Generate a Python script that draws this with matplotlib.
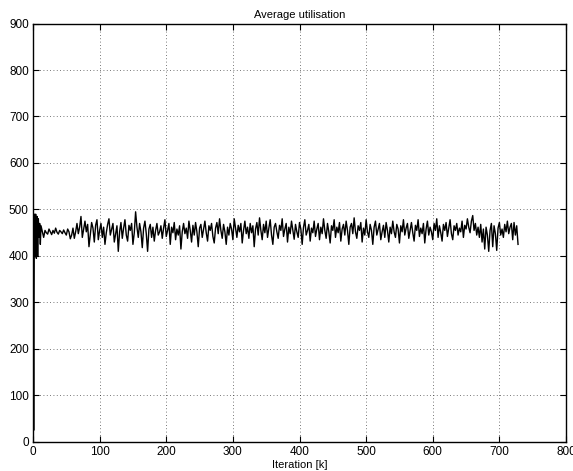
import numpy as np
import matplotlib
matplotlib.use('Agg')
import matplotlib.pyplot as plt

plt.rcParams['font.family'] = ['Liberation Sans', 'DejaVu Sans']

# start-up transient, one sample per iteration (k)
start_iter = [0, 1, 2, 3, 4, 5, 6, 7, 8, 9, 10, 11, 12]
start_util = [470, 25, 490, 400, 490, 395, 485, 400, 480, 440, 470, 425, 465]

# steady state, read every 2 k from 14 k on
steady_iter = np.arange(14, 729, 2)
steady_util = [
    452, 440, 455, 450, 447, 458, 452, 446, 455, 449, 460, 451, 447, 455,
    452, 448, 456, 450, 445, 458, 452, 437,
    445, 460, 438, 452, 470, 448, 462, 485, 440, 458, 475, 452, 468, 420,
    445, 472, 460, 430, 466, 478, 435, 455, 470, 440, 462, 425, 450, 468,
    480, 445, 458, 470, 430, 447, 465, 410, 452, 472, 438, 460, 478, 445,
    432, 466, 455, 470, 425, 450, 495, 462, 440, 470, 452, 418, 460, 475,
    448, 410, 458, 468, 440, 462, 432, 455, 470, 445, 452, 465, 438, 460,
    478, 442, 455, 470, 425, 462, 450, 472, 435, 458, 445, 465, 415, 452,
    470, 448, 460, 438, 475, 455, 430, 466, 445, 472, 452, 420, 460, 468,
    440, 458, 475, 450, 432, 465, 455, 470, 442, 428, 460, 472, 448, 480,
    455, 438, 468, 452, 425, 462, 445, 470, 458, 435, 480, 460, 440, 466,
    452, 470, 428, 455, 475, 448, 462, 438, 470, 450, 465, 420, 458, 472,
    445, 482, 455, 435, 468, 450, 475, 440, 460, 478, 445, 425, 462, 470,
    452, 438, 466, 455, 480, 442, 458, 470, 430, 462, 448, 475, 455, 436,
    468, 452, 440, 472, 458, 425, 462, 478, 445, 455, 468, 432, 460, 450,
    475, 442, 458, 470, 435, 462, 448, 480, 455, 438, 470, 452, 428, 465,
    455, 478, 440, 462, 450, 472, 432, 458, 468, 445, 475, 455, 425, 462,
    470, 448, 482, 452, 438, 465, 455, 472, 430, 460, 445, 478, 452, 440,
    468, 455, 425, 462, 475, 445, 458, 470, 435, 452, 466, 440, 472, 455,
    430, 462, 448, 475, 452, 440, 468, 458, 428, 465, 452, 478, 445, 460,
    470, 438, 455, 472, 450, 432, 466, 455, 478, 442, 460, 448, 470, 428,
    458, 475, 445, 462, 452, 435, 470, 455, 480, 440, 465, 450, 432, 468,
    455, 472, 442, 460, 478, 448, 435, 465, 455, 470, 445, 460, 452, 475,
    440, 466, 458, 480, 462, 450, 475, 487, 455, 470, 445, 462, 440, 468,
    430, 458, 415, 462, 445, 410, 455, 470, 420, 465, 448, 412, 460, 472,
    445, 458, 440, 468, 452, 475, 448, 462, 470, 435, 472, 445, 465, 425,
]

iters = np.concatenate([start_iter, steady_iter])
util = np.array(start_util + steady_util)

fig = plt.figure(figsize=(5.73, 4.71), dpi=100)
ax = fig.add_axes([0.0576, 0.0616, 0.9302, 0.8885])

ax.plot(iters, util, color='black', linewidth=1.0)

ax.set_xlim(0, 800)
ax.set_ylim(0, 900)
ax.set_xticks(np.arange(0, 801, 100))
ax.set_yticks(np.arange(0, 901, 100))
ax.tick_params(direction='in', top=True, right=True, length=4, labelsize=8.5, pad=3)
ax.grid(True, linestyle=(0, (1, 3)), color='black', linewidth=0.6, alpha=0.7)
for s in ax.spines.values():
    s.set_linewidth(1.0)

ax.set_title('Average utilisation', fontsize=8, pad=4)
ax.set_xlabel('Iteration [k]', fontsize=8, labelpad=1)

fig.savefig('out.png', dpi=100)
